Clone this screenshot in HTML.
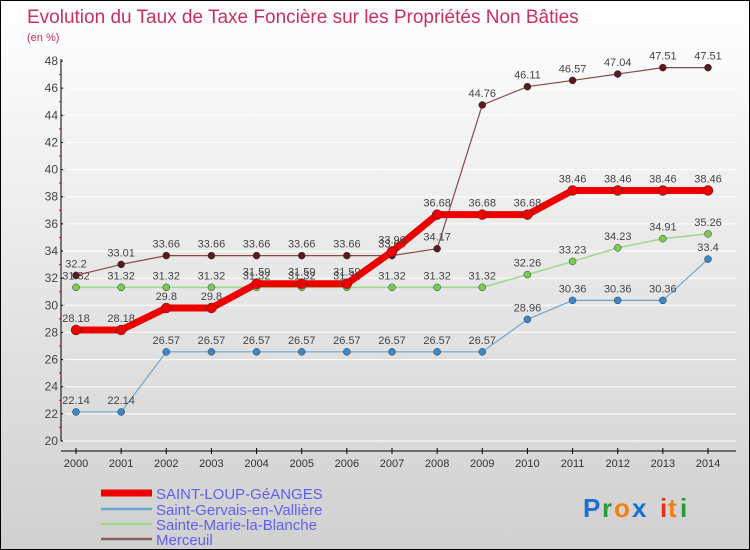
<!DOCTYPE html>
<html><head><meta charset="utf-8"><style>
body{margin:0}
#c{width:748px;height:548px;border:1px solid #000;background:linear-gradient(#fff,#d0d0d0);position:relative;overflow:hidden;font-family:"Liberation Sans",sans-serif}
</style></head><body>
<div id="c">
<svg id="s" width="748" height="548" style="position:absolute;left:0;top:0">
<text x="26" y="22" font-size="19" fill="#c8305e">Evolution du Taux de Taxe Foncière sur les Propriétés Non Bâties</text>
<text x="26" y="40" font-size="11" fill="#c8305e">(en %)</text>
<g id="ax"></g><g id="ser"></g><g id="leg"></g>
<g font-size="26" font-weight="bold">
<text x="582" y="516" fill="#1a6fd0">P</text><text x="601" y="516" fill="#2a9a3a">r</text><text x="613" y="516" fill="#f08010">o</text><text x="631" y="516" fill="#1a6fd0">x</text><text x="659" y="516" fill="#e03020">i</text><text x="667" y="516" fill="#f08010">t</text><text x="679" y="516" fill="#2a9a3a">i</text></g>
</svg></div>
<script>
const years=[2000,2001,2002,2003,2004,2005,2006,2007,2008,2009,2010,2011,2012,2013,2014];
const yTicks=[20,22,24,26,28,30,32,34,36,38,40,42,44,46,48];
const seriesNames=["SAINT-LOUP-GéANGES","Saint-Gervais-en-Vallière","Sainte-Marie-la-Blanche","Merceuil"];
const saintLoup=[28.18,28.18,29.8,29.8,31.59,31.59,31.59,33.96,36.68,36.68,36.68,38.46,38.46,38.46,38.46];
const saintGervais=[22.14,22.14,26.57,26.57,26.57,26.57,26.57,26.57,26.57,26.57,28.96,30.36,30.36,30.36,33.4];
const sainteMarie=[31.32,31.32,31.32,31.32,31.32,31.32,31.32,31.32,31.32,31.32,32.26,33.23,34.23,34.91,35.26];
const merceuil=[32.2,33.01,33.66,33.66,33.66,33.66,33.66,33.66,34.17,44.76,46.11,46.57,47.04,47.51,47.51];
const NS="http://www.w3.org/2000/svg";
const x=i=>75+i*(707-75)/14;
const y=v=>440-(v-20)*(380/28);
function mk(t,a,p){const e=document.createElementNS(NS,t);for(const k in a)e.setAttribute(k,a[k]);p.appendChild(e);return e;}
const ax=document.getElementById('ax');
let yl=mk('line',{x1:60,y1:58,x2:60,y2:440,stroke:'#000'},ax);


let xl=mk('line',{x1:60,y1:450,x2:735,y2:450,stroke:'#000'},ax);


yTicks.forEach(v=>{
 mk('line',{x1:60,y1:y(v),x2:64,y2:y(v),stroke:'#000'},ax);
 if(v<48)mk('line',{x1:58,y1:y(v+1),x2:60,y2:y(v+1),stroke:'#e00'},ax);
 mk('line',{x1:62,y1:y(v),x2:735,y2:y(v),stroke:'#fff','stroke-width':1},ax);
 const t=mk('text',{x:57,y:y(v)+4,'text-anchor':'end','font-size':12,fill:'#444'},ax);t.textContent=v;
 
 
});
years.forEach((yr,i)=>{
 mk('line',{x1:x(i),y1:447,x2:x(i),y2:453,stroke:'#000'},ax);
 const t=mk('text',{x:x(i),y:466,'text-anchor':'middle','font-size':11,fill:'#333'},ax);t.textContent=yr;
 
 
});
const ser=document.getElementById('ser');
function draw(d,col,w,r,fill,name){
 const g=mk('g',{},ser);
 
 
 mk('polyline',{points:d.map((v,i)=>x(i)+','+y(v)).join(' '),fill:'none',stroke:col,'stroke-width':w},g);
 d.forEach((v,i)=>{
  const c=mk('circle',{cx:x(i),cy:y(v),r:r,fill:fill,stroke:'#333','stroke-width':0.5},g);
  
  
  const t=mk('text',{x:x(i),y:y(v)-8,'text-anchor':'middle','font-size':11,fill:'#444'},g);t.textContent=v;
 });
}
draw(saintGervais,'#6fa6d0',1.2,3.5,'#3a88c8','series-saint-gervais');
draw(sainteMarie,'#9ed88a',1.5,3.5,'#7acc50','series-sainte-marie');
draw(merceuil,'#8a4a4a',1.2,3.5,'#5a1a20','series-merceuil');
draw(saintLoup,'#ee0000',7,5,'#ee0000','series-saint-loup');
const leg=document.getElementById('leg');
const lc=['#ee0000','#6fa6d0','#9ed88a','#8a6060'],lw=[7,2.5,2.5,2.5],ly=[492,508,523,538];
seriesNames.forEach((n,i)=>{
 const g=mk('g',{},leg);
 
 
 mk('line',{x1:100,y1:ly[i],x2:151,y2:ly[i],stroke:lc[i],'stroke-width':lw[i]},g);
 const t=mk('text',{x:155,y:ly[i]+6,'font-size':15,fill:'#6060f0'},g);t.textContent=n;
});
</script></body></html>
